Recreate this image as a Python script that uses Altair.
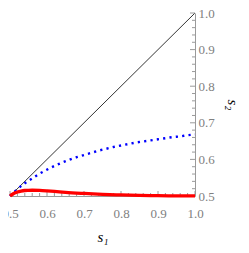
import altair as alt
import pandas as pd

diag_s1 = [0.5, 1.0]
diag_s2 = [0.5, 1.0]

blue_s1 = [0.50, 0.52, 0.54, 0.56, 0.58, 0.60, 0.62, 0.64, 0.66, 0.68, 0.70,
           0.72, 0.74, 0.76, 0.78, 0.80, 0.82, 0.84, 0.86, 0.88, 0.90, 0.92,
           0.94, 0.96, 0.98, 1.00]
blue_s2 = [0.500, 0.519, 0.535, 0.548, 0.561, 0.572, 0.582, 0.591, 0.599, 0.606, 0.612,
           0.618, 0.624, 0.629, 0.634, 0.638, 0.642, 0.646, 0.649, 0.652, 0.655, 0.658,
           0.661, 0.663, 0.666, 0.668]

red_s1 = [0.50, 0.51, 0.52, 0.53, 0.54, 0.55, 0.56, 0.58, 0.60, 0.62, 0.65,
          0.70, 0.75, 0.80, 0.85, 0.90, 0.95, 1.00]
red_s2 = [0.500, 0.507, 0.511, 0.5135, 0.515, 0.5155, 0.5157, 0.5152, 0.514, 0.5125, 0.510,
          0.507, 0.5045, 0.5028, 0.5015, 0.5008, 0.5003, 0.5001]

major_ticks = [0.5, 0.6, 0.7, 0.8, 0.9, 1.0]
minor_ticks = [0.52, 0.54, 0.56, 0.58, 0.62, 0.64, 0.66, 0.68, 0.72, 0.74, 0.76, 0.78,
               0.82, 0.84, 0.86, 0.88, 0.92, 0.94, 0.96, 0.98]

diag = pd.DataFrame({"s1": diag_s1, "s2": diag_s2})
blue = pd.DataFrame({"s1": blue_s1, "s2": blue_s2})
red = pd.DataFrame({"s1": red_s1, "s2": red_s2})
maj = pd.DataFrame({"t": major_ticks})
mino = pd.DataFrame({"t": minor_ticks})

GRAY = "#9a9a9a"
LBL = "#808080"
FONT = "Liberation Serif"

xs = alt.Scale(domain=[0.5, 1.0], nice=False, zero=False)
ys = alt.Scale(domain=[0.5, 1.0], nice=False, zero=False)

x_axis = alt.Axis(orient="bottom", values=major_ticks, format=".1f", ticks=False, tickSize=0,
                  domainColor=GRAY, domainWidth=1, labelColor=LBL, labelFont=FONT,
                  labelFontSize=13, labelPadding=11, labelFlush=False, labelOverlap=False,
                  labelBound=False, grid=False, title="s₁", titleFont=FONT,
                  titleFontStyle="italic", titleFontSize=15, titleFontWeight="normal",
                  titleColor="black", titlePadding=9)
y_axis = alt.Axis(orient="right", values=major_ticks, format=".1f", ticks=False, tickSize=0,
                  domainColor=GRAY, domainWidth=1, labelColor=LBL, labelFont=FONT,
                  labelFontSize=13, labelPadding=3, labelFlush=False, labelOverlap=False,
                  labelBound=False, grid=False, title="s₂", titleFont=FONT,
                  titleFontStyle="italic", titleFontSize=15, titleFontWeight="normal",
                  titleColor="black", titlePadding=10, titleAngle=90)


def X(field):
    return alt.X(field, scale=xs, axis=x_axis)


def Y(field):
    return alt.Y(field, scale=ys, axis=y_axis)


diag_line = alt.Chart(diag).mark_line(color="black", strokeWidth=0.8).encode(
    x=X("s1:Q"), y=Y("s2:Q"),
)

blue_line = alt.Chart(blue).mark_line(color="#0000ff", strokeWidth=2.4,
                                      strokeDash=[2.2, 4.2], strokeCap="butt",
                                      interpolate="monotone").encode(
    x=X("s1:Q"), y=Y("s2:Q"),
)

red_line = alt.Chart(red).mark_line(color="#ff0000", strokeWidth=3.3,
                                    interpolate="monotone").encode(
    x=X("s1:Q"), y=Y("s2:Q"),
)

bx_major = alt.Chart(maj).mark_rule(color=GRAY, strokeWidth=1, y2Offset=-5).encode(
    x=X("t:Q"),
    y=alt.YDatum(0.5, scale=ys, axis=y_axis),
    y2=alt.Y2Datum(0.5),
)
bx_minor = alt.Chart(mino).mark_rule(color=GRAY, strokeWidth=1, y2Offset=-3).encode(
    x=X("t:Q"),
    y=alt.YDatum(0.5, scale=ys, axis=y_axis),
    y2=alt.Y2Datum(0.5),
)
ry_major = alt.Chart(maj).mark_rule(color=GRAY, strokeWidth=1, x2Offset=-5).encode(
    y=Y("t:Q"),
    x=alt.XDatum(1.0, scale=xs, axis=x_axis),
    x2=alt.X2Datum(1.0),
)
ry_minor = alt.Chart(mino).mark_rule(color=GRAY, strokeWidth=1, x2Offset=-3).encode(
    y=Y("t:Q"),
    x=alt.XDatum(1.0, scale=xs, axis=x_axis),
    x2=alt.X2Datum(1.0),
)

chart = alt.layer(diag_line, bx_major, bx_minor, ry_major, ry_minor, blue_line, red_line).properties(
    width=185,
    height=183,
    autosize=alt.AutoSizeParams(type="none"),
    padding={"left": 2, "top": 5, "right": 46, "bottom": 49},
    background="white",
).configure_view(strokeWidth=0)

chart.save("out.html", embed_options={"renderer": "svg", "actions": False})
